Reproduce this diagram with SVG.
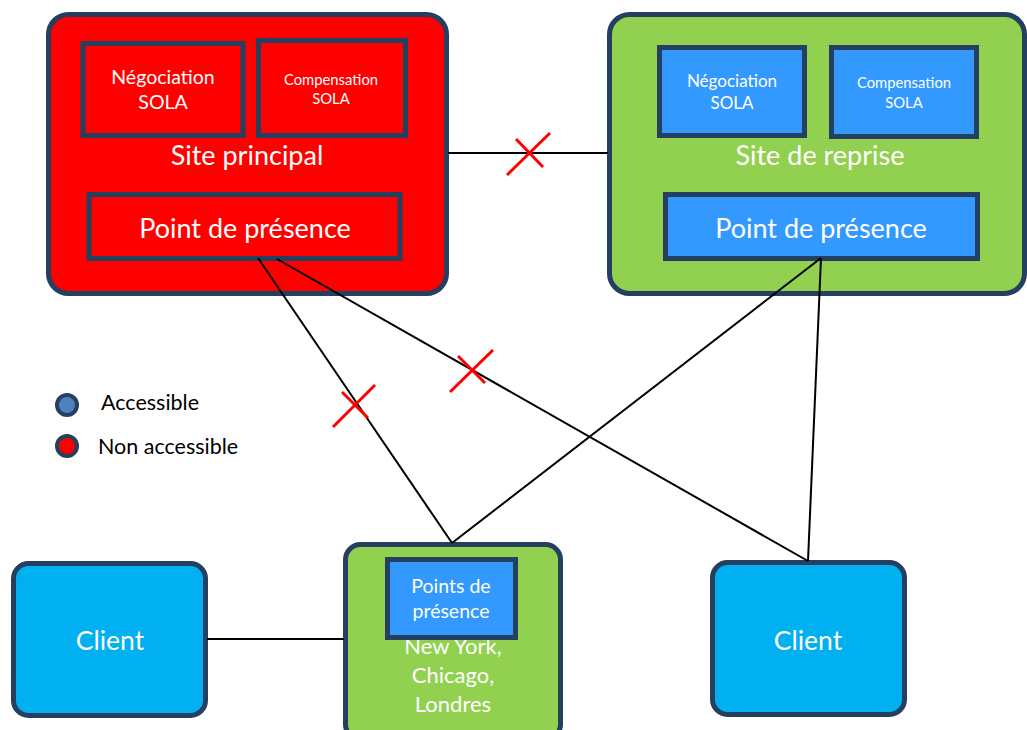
<svg xmlns="http://www.w3.org/2000/svg" width="1027" height="730" viewBox="0 0 1027 730">
<style>
.frame{stroke:#243F60;stroke-width:5}
.red{fill:#FF0000}
.green{fill:#92D050}
.blue{fill:#3399FF}
.client{fill:#00B0F0}
.t{font-family:Lato,"Open Sans","Liberation Sans",sans-serif;fill:#FFFFFF;text-anchor:middle}
.lg{font-family:Lato,"Open Sans","Liberation Sans",sans-serif;fill:#000000;font-size:21.5px}
.conn{stroke:#000000;stroke-width:2;fill:none}
.x{stroke:#FF0000;stroke-width:3;fill:none}
</style>
<rect width="1027" height="730" fill="#FFFFFF"/>
<g id="site-principal">
<rect class="frame red" x="48.5" y="14.5" width="398" height="279" rx="20"/>
<rect class="frame red" x="83" y="43.5" width="160" height="92"/>
<text class="t" x="163" y="84" font-size="19.5">Négociation</text>
<text class="t" x="163" y="109" font-size="19.5">SOLA</text>
<rect class="frame red" x="258.5" y="40.5" width="147" height="95"/>
<text class="t" x="331" y="85" font-size="14.8">Compensation</text>
<text class="t" x="331" y="104" font-size="14.8">SOLA</text>
<text class="t" x="247" y="165" font-size="27">Site principal</text>
<rect class="frame red" x="89" y="194.5" width="311" height="64"/>
<text class="t" x="245" y="238" font-size="27">Point de présence</text>
</g>
<g id="site-reprise">
<rect class="frame green" x="609.5" y="14.5" width="415" height="279" rx="20"/>
<rect class="frame blue" x="659.5" y="47.5" width="145" height="88"/>
<text class="t" x="732" y="87" font-size="17">Négociation</text>
<text class="t" x="732" y="109" font-size="17">SOLA</text>
<rect class="frame blue" x="831.5" y="47.5" width="145" height="89"/>
<text class="t" x="904" y="88" font-size="14.8">Compensation</text>
<text class="t" x="904" y="108" font-size="14.8">SOLA</text>
<text class="t" x="820" y="165" font-size="27">Site de reprise</text>
<rect class="frame blue" x="665.5" y="194.5" width="312" height="64"/>
<text class="t" x="821" y="238" font-size="27">Point de présence</text>
</g>
<g id="points-presence">
<rect class="frame green" x="345.5" y="544.5" width="215" height="195" rx="15"/>
<text class="t" x="453" y="654" font-size="22">New York,</text>
<text class="t" x="453" y="683" font-size="22">Chicago,</text>
<text class="t" x="453" y="712" font-size="22">Londres</text>
<rect class="frame blue" x="387.5" y="559.5" width="128" height="78"/>
<text class="t" x="451" y="593" font-size="19.5">Points de</text>
<text class="t" x="451" y="618" font-size="19.5">présence</text>
</g>
<g id="client-left">
<rect class="frame client" x="13.5" y="563.5" width="192" height="152" rx="15"/>
<text class="t" x="110" y="650" font-size="26.5">Client</text>
</g>
<g id="client-right">
<rect class="frame client" x="712.5" y="562.5" width="192" height="152" rx="15"/>
<text class="t" x="808" y="650" font-size="26.5">Client</text>
</g>
<g id="connectors">
<line class="conn" x1="448" y1="153" x2="608" y2="153"/>
<line class="conn" x1="258" y1="258" x2="452" y2="543"/>
<line class="conn" x1="277" y1="259" x2="808" y2="561"/>
<line class="conn" x1="821" y1="258" x2="452" y2="543"/>
<line class="conn" x1="821" y1="258" x2="808" y2="561"/>
<line class="conn" x1="207" y1="639" x2="344" y2="639"/>
</g>
<g id="crosses">
<line class="x" x1="507" y1="175" x2="550" y2="133"/>
<line class="x" x1="516" y1="139" x2="543" y2="167"/>
<line class="x" x1="333" y1="427" x2="375" y2="385"/>
<line class="x" x1="342" y1="392" x2="368" y2="418"/>
<line class="x" x1="450" y1="392" x2="493" y2="350"/>
<line class="x" x1="458" y1="356" x2="485" y2="383"/>
</g>
<g id="legend">
<circle cx="67" cy="405" r="10" fill="#4F81BD" stroke="#243F60" stroke-width="4"/>
<text class="lg" x="101" y="410">Accessible</text>
<circle cx="67" cy="446" r="10" fill="#FF0000" stroke="#243F60" stroke-width="4"/>
<text class="lg" x="98" y="454">Non accessible</text>
</g>
</svg>
